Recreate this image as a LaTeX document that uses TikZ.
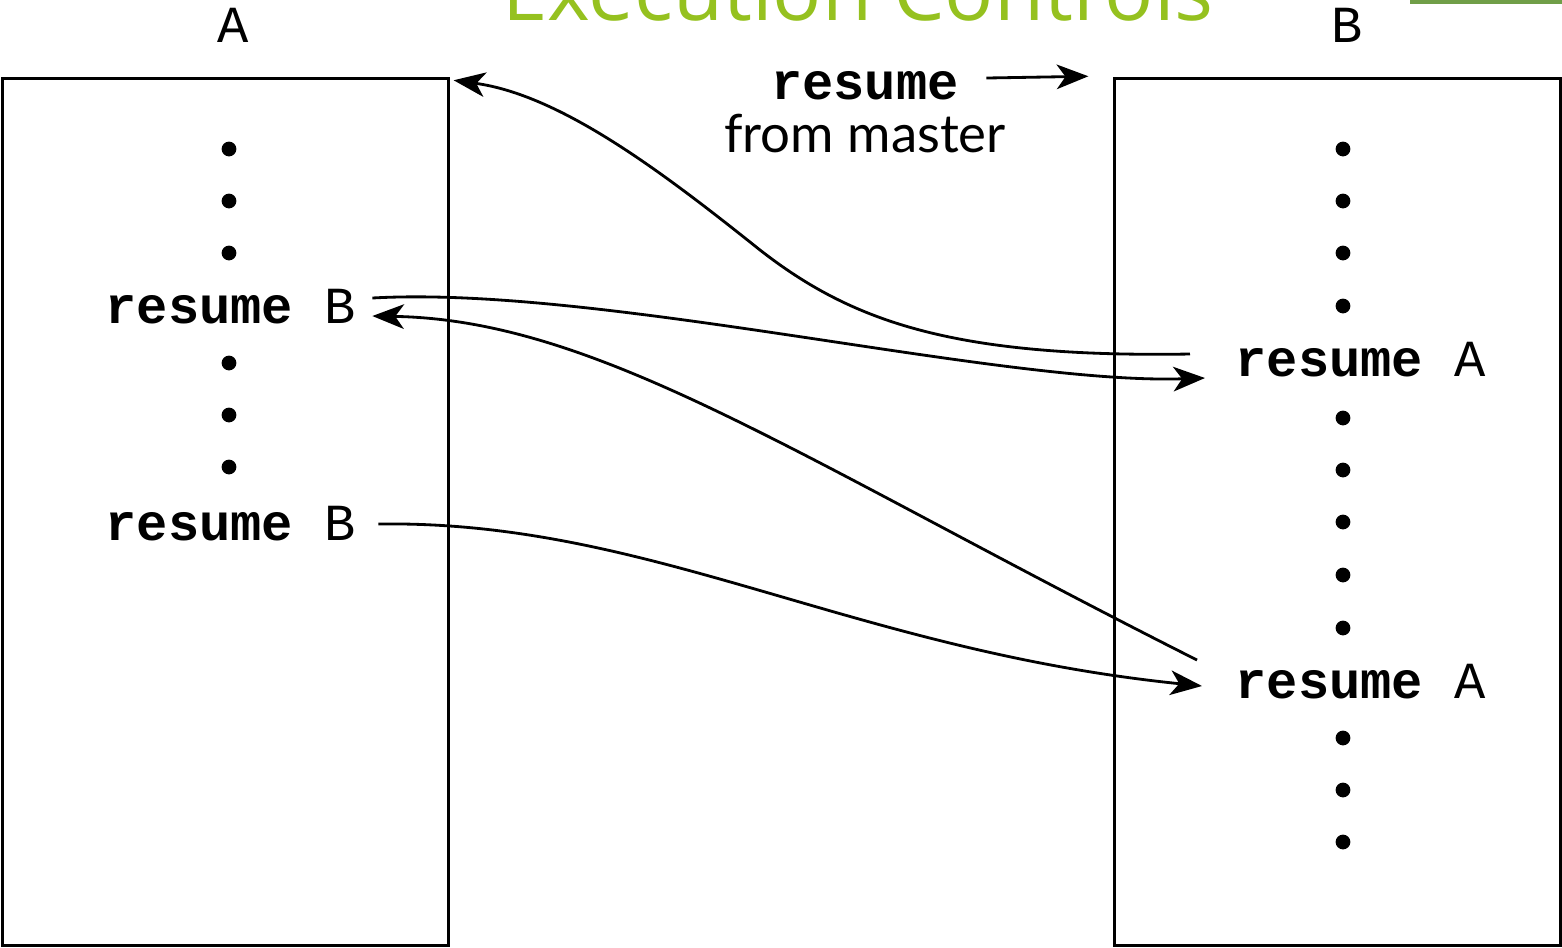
\documentclass[tikz,border=0pt]{standalone}
\usepackage{fontspec}
\usepackage{tikz}
\usetikzlibrary{arrows.meta,positioning}
\newfontfamily\codefont{Liberation Mono}
\newfontfamily\notefont{Lato}
\newfontfamily\titlefont{Open Sans}
\definecolor{titlegreen}{RGB}{149,193,31}
\definecolor{rulegreen}{RGB}{112,158,72}
\tikzset{prog/.style={draw,line width=0.85pt,minimum width=4.45cm,minimum height=8.66cm,inner sep=0pt},
  stmt/.style={font=\codefont\fontsize{14.8}{16}\selectfont,inner sep=2pt},
  arr/.style={-{Stealth[length=9pt,width=7pt,inset=2.5pt]},line width=0.8pt}}

\begin{document}
\begin{tikzpicture}[x=0.01cm,y=-0.01cm]
\useasboundingbox (0,0) rectangle (1562,947);
% slide title, cut off at the top
\node[font=\titlefont\fontsize{23.2}{25}\selectfont,text=titlegreen,anchor=base] (title) at (858,20) {Execution Controls};
\draw[rulegreen,line width=2pt] (1410,0) -- (1562,0);
% the two programs
\node[prog] (progA) at (225.5,512) {};
\node[prog] (progB) at (1337.5,512) {};
\node[stmt] (nameA) at (233,25) {A};
\node[stmt] (nameB) at (1347,25) {B};
\node[stmt,anchor=west] (resB1) at (98,307) {\textbf{resume} B};
\node[stmt,anchor=west] (resB2) at (98,524) {\textbf{resume} B};
\node[stmt,anchor=west] (resA1) at (1228,360) {\textbf{resume} A};
\node[stmt,anchor=west] (resA2) at (1228,682) {\textbf{resume} A};
\foreach \y in {149,201,253,363,415,467}
  \fill (229,\y) circle[radius=2.1pt];
\foreach \y in {149,201,253,306,418,470,522,575,628,738,790,842}
  \fill (1343,\y) circle[radius=2.1pt];
% from master
\node[stmt] (resTop) at (865,86) {\textbf{resume}};
\node[font=\notefont\fontsize{15}{17}\selectfont,inner sep=2pt] (fromMaster) at (865,134) {from master};
\draw[arr] ([shift={(20,-8)}]resTop.east) -- ([shift={(-25,-1)}]progB.north west);
% transfers of control
\draw[arr] ([shift={(-38,-6)}]resA1.west) .. controls (950,358) and (850,320) .. (760,250)
  .. controls (660,170) and (560,95) .. ([shift={(4,3)}]progA.north east);
\draw[arr] ([shift={(9,-9)}]resB1.east) .. controls (600,285) and (1000,385) .. ([shift={(-23,18)}]resA1.west);
\draw[arr] ([shift={(-31,-22)}]resA2.west) .. controls (800,460) and (600,320) .. ([shift={(9,9)}]resB1.east);
\draw[arr] ([shift={(15,0)}]resB2.east) .. controls (650,520) and (850,650) .. ([shift={(-26,4)}]resA2.west);
\end{tikzpicture}
\end{document}
